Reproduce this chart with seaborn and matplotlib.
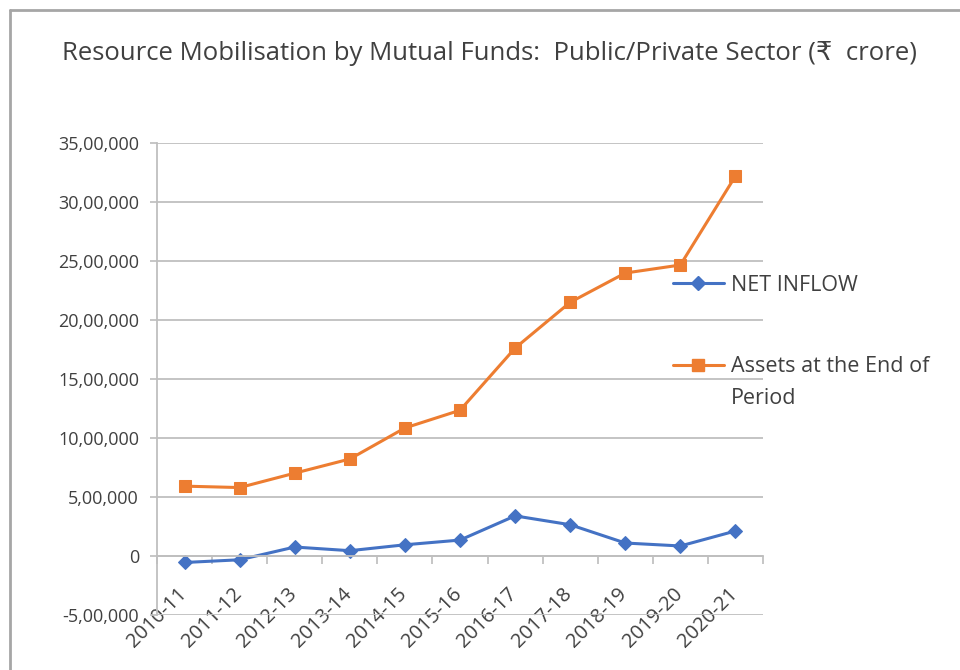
import matplotlib
matplotlib.use("Agg")
import matplotlib.pyplot as plt
import matplotlib.ticker as mticker
from matplotlib.lines import Line2D
from matplotlib.legend_handler import HandlerLine2D
import seaborn as sns
import pandas as pd
import numpy as np

years = ["2010-11", "2011-12", "2012-13", "2013-14", "2014-15", "2015-16",
         "2016-17", "2017-18", "2018-19", "2019-20", "2020-21"]
net_inflow = [-55000, -32000, 76000, 45000, 95000, 135000, 340000, 265000, 110000, 85000, 212000]
assets = [592000, 580000, 702000, 822000, 1085000, 1235000, 1762000, 2150000, 2398000, 2466000, 3220000]
series_names = ["NET INFLOW", "Assets at the End of\nPeriod"]
yticks = [-500000, 0, 500000, 1000000, 1500000, 2000000, 2500000, 3000000, 3500000]

sns.set_theme(style="white")
FONT = ["Open Sans", "DejaVu Sans"]
plt.rcParams["font.family"] = FONT

BLUE = "#4472C4"
ORANGE = "#ED7D31"
GRID = "#BFBFBF"
TXT = "#404040"

W, H = 960, 670
fig = plt.figure(figsize=(9.6, 6.7), dpi=100)
L, R, T, B = 157, 763, 143, 615
ax = fig.add_axes([L / W, 1 - B / H, (R - L) / W, (B - T) / H])

df = pd.DataFrame({"x": np.arange(len(years)), "net": net_inflow, "assets": assets})
sns.lineplot(data=df, x="x", y="assets", ax=ax, color=ORANGE, marker="s",
             markersize=8, markeredgecolor=ORANGE, linewidth=2.2, label=series_names[1])
sns.lineplot(data=df, x="x", y="net", ax=ax, color=BLUE, marker="D",
             markersize=7, markeredgecolor=BLUE, linewidth=2.2, label=series_names[0])

ax.set_xlim(-0.5, len(years) - 0.5)
ax.set_ylim(yticks[0], yticks[-1])
ax.set_yticks(yticks)


def indian(v, pos=None):
    v = int(round(v))
    if v == 0:
        return "0"
    s = str(abs(v))
    last3 = s[-3:]
    rest = s[:-3]
    parts = []
    while len(rest) > 2:
        parts.insert(0, rest[-2:])
        rest = rest[:-2]
    if rest:
        parts.insert(0, rest)
    out = ",".join(parts + [last3])
    return ("-" if v < 0 else "") + out


ax.yaxis.set_major_formatter(mticker.FuncFormatter(indian))
ax.grid(axis="y", color=GRID, linewidth=1.3)
ax.set_axisbelow(True)
ax.tick_params(axis="y", which="major", length=5, color=GRID, labelsize=13,
               labelcolor=TXT, pad=8, left=True)

# x axis at y=0
ax.spines["bottom"].set_position(("data", 0))
ax.spines["bottom"].set_color(GRID)
ax.spines["bottom"].set_linewidth(1.3)
ax.spines["left"].set_color(GRID)
ax.spines["left"].set_linewidth(1.3)
ax.spines["top"].set_visible(False)
ax.spines["right"].set_visible(False)

ax.set_xticks(np.arange(len(years) + 1) - 0.5)
ax.set_xticklabels([])
ax.tick_params(axis="x", which="major", length=6, color=GRID, bottom=True)
ax.set_xticks(np.arange(len(years)), minor=True)
ax.set_xticklabels(years, minor=True, rotation=45, ha="right",
                   rotation_mode="anchor", fontsize=14.5, color=TXT)
ax.tick_params(axis="x", which="minor", length=0, pad=20)
for lbl in ax.get_xticklabels(minor=True):
    lbl.set_transform(lbl.get_transform() + matplotlib.transforms.ScaledTranslation(-0.08, 0, fig.dpi_scale_trans))
ax.set_xlabel("")
ax.set_ylabel("")


class FirstLineHandler(HandlerLine2D):
    def __init__(self, shift, **kw):
        super().__init__(**kw)
        self.shift = shift

    def create_artists(self, legend, orig_handle, xdescent, ydescent, width, height,
                       fontsize, trans):
        return super().create_artists(legend, orig_handle, xdescent, ydescent - self.shift,
                                      width, height, fontsize, trans)


# legend
handles = [Line2D([], [], color=BLUE, marker="D", markersize=7, linewidth=2.2),
           Line2D([], [], color=ORANGE, marker="s", markersize=8, linewidth=2.2)]
if ax.legend_:
    ax.legend_.remove()
leg = fig.legend(handles, series_names, loc="upper left", bbox_to_anchor=(664 / W, 1 - 266 / H),
                 frameon=False, fontsize=15.5, handlelength=2.4, handletextpad=0.3,
                 labelspacing=2.8, labelcolor=TXT, borderaxespad=0,
                 handler_map={handles[1]: FirstLineHandler(26)})
for t in leg.get_texts():
    t.set_linespacing(1.71)

fig.text(490 / W, 1 - 53 / H,
         "Resource Mobilisation by Mutual Funds:  Public/Private Sector (\u20b9  crore)",
         ha="center", va="center", fontsize=18.5, color=TXT, family=FONT)

# outer frame lines
fig.add_artist(Line2D([10 / W, 1], [1 - 10 / H, 1 - 10 / H], transform=fig.transFigure,
                      color="#A6A6A6", linewidth=2))
fig.add_artist(Line2D([10 / W, 10 / W], [0, 1 - 10 / H], transform=fig.transFigure,
                      color="#A6A6A6", linewidth=2))

fig.savefig("out.png", dpi=100)
